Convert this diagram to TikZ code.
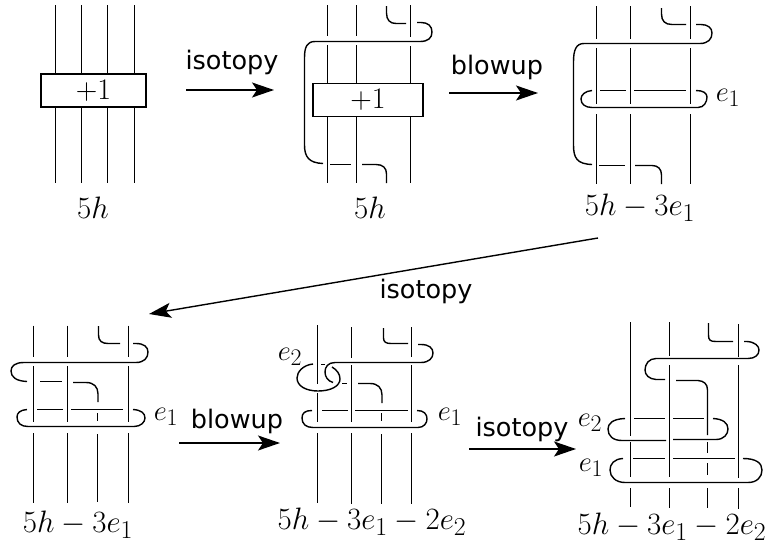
\documentclass[tikz,border=0pt]{standalone}
\usepackage{fontspec}
\usepackage{graphicx}
\newfontfamily\labelfont{DejaVu Sans}
\usetikzlibrary{arrows.meta}
\newcommand\mysized[2]{\scalebox{#1}{\fontsize{24.88}{28}\selectfont$#2$}}
\newcommand\cls[1]{\mysized{1.245}{#1}}
\newcommand\crv[1]{\mysized{1.15}{#1}}
\newcommand\frm[1]{\mysized{1.2}{#1}}
\tikzset{
  strand/.style={line width=1.4pt,line cap=butt},
  thick strand/.style={line width=1.4pt},
  flow/.style={line width=1.4pt,-{Stealth[length=22pt,width=15pt,inset=5pt]}},
  word/.style={font=\labelfont\fontsize{25.5}{28}\selectfont,inner sep=0pt},
  class/.style={inner sep=0pt},
  framing/.style={draw,line width=1.4pt,fill=white,inner sep=0pt},
  curve label/.style={inner sep=0pt}
}
\begin{document}
\begin{tikzpicture}[x=1pt,y=-1pt]
\useasboundingbox (0,0) rectangle (771,546);

% --- panel 1
\foreach \x in {55.5,81.5,107.5,134.5} \draw[strand] (\x,5) -- (\x,183);
\node[framing,minimum width=105pt,minimum height=33pt] (boxa) at (93.5,90.5) {\frm{+1}};
\node[class] (la) at (93,208) {\cls{5h}};

% --- panel 2
\foreach \x in {327.5,356.5} {\draw[strand] (\x,5) -- (\x,36) (\x,45) -- (\x,183);}
\draw[strand] (410.5,5) -- (410.5,37) (410.5,46) -- (410.5,183);
\draw[thick strand] (386.5,6) -- (386.5,13) .. controls (386.5,20) and (390,23.5) .. (396,23.5) -- (406,23.5);
\draw[thick strand] (417,22.5) -- (421,22.5) .. controls (428,22.5) and (432,26) .. (432,32) .. controls (432,38) and (428,41.5) .. (420,41.5)
  -- (315,41.5) .. controls (307,41.5) and (304.5,47) .. (304.5,58) -- (304.5,145) .. controls (304.5,157) and (309,163) .. (323,163.5);
\draw[thick strand] (330,164.5) -- (351,164.5);
\draw[thick strand] (362,164.5) -- (376,164.5) .. controls (383,164.5) and (386.5,168) .. (386.5,174) -- (386.5,183);
\node[framing,minimum width=110pt,minimum height=33.5pt] (boxb) at (368,100) {\frm{+1}};
\node[class] (lb) at (370,208) {\cls{5h}};

% --- panel 3
\foreach \x in {596.5,630.5,690.5} {\draw[strand] (\x,6) -- (\x,39) (\x,48) -- (\x,104) (\x,114) -- (\x,184);}
\draw[thick strand] (661.5,8) -- (661.5,14) .. controls (661.5,21) and (665,24.5) .. (672,24.5) -- (686,24.5);
\draw[thick strand] (696,24.5) -- (701,24.5) .. controls (708,24.5) and (712,28) .. (712,33) .. controls (712,39) and (708,43.5) .. (700,43.5)
  -- (584,43.5) .. controls (576,43.5) and (573.5,50) .. (573.5,62) -- (573.5,145) .. controls (573.5,158) and (577,164) .. (592,164.5);
\draw[thick strand] (599,165.5) -- (625,165.5);
\draw[thick strand] (635,165.5) -- (652,165.5) .. controls (658,165.5) and (661.5,169) .. (661.5,175) -- (661.5,184);
\draw[thick strand] (592,90.5) .. controls (585,91) and (581,95) .. (581,99) .. controls (581,104) and (585,107.5) .. (592,107.5) -- (698,107.5)
  .. controls (704,107.5) and (707,102) .. (707,97) .. controls (707,93) and (703,90.5) .. (696,90.5);
\draw[thick strand] (600,90.5) -- (626,90.5) (634,90.5) -- (686,90.5);
\node[curve label] (e1c) at (728,98) {\crv{e_1}};
\node[class] (lc) at (640,208) {\cls{5h-3e_1}};

% --- panel 4
\foreach \x in {33.5,67.5,128.5} {\draw[strand] (\x,325.5) -- (\x,357) (\x,366) -- (\x,422) (\x,433) -- (\x,503);}
\draw[strand] (97.5,413) -- (97.5,421) (97.5,434) -- (97.5,502);
\draw[thick strand] (98.5,326) -- (98.5,335) .. controls (98.5,341) and (102,343.5) .. (108,343.5) -- (120,343.5);
\draw[thick strand] (133,343.5) -- (136,343.5) .. controls (144,343.5) and (148,347) .. (148,352) .. controls (148,358) and (144,362.5) .. (136,362.5)
  -- (24,362.5) .. controls (15,362.5) and (11,366) .. (11,371) .. controls (11,377) and (16,381) .. (27,381.5);
\draw[thick strand] (40,381.5) -- (62,381.5);
\draw[thick strand] (73,382.5) -- (86,382.5) .. controls (94,382.5) and (98,387) .. (98,394) -- (98,402);
\draw[thick strand] (27,409.5) .. controls (20,410) and (17,413) .. (17,417) .. controls (17,423) and (21,426.5) .. (28,426.5) -- (134,426.5)
  .. controls (141,426.5) and (145,422) .. (145,418) .. controls (145,413) and (141,410) .. (133,409.5);
\draw[thick strand] (37,409.5) -- (63,409.5) (71,409.5) -- (123,409.5);
\node[curve label] (e1d) at (166,417) {\crv{e_1}};
\node[class] (ld) at (78,525) {\cls{5h-3e_1}};

% --- panel 5
\draw[strand] (317.5,325) -- (317.5,384) (317.5,393) -- (317.5,422) (317.5,433) -- (317.5,503);
\draw[strand] (351.5,327) -- (351.5,358) (351.5,365) -- (351.5,422) (351.5,433) -- (351.5,504);
\draw[strand] (381.5,413) -- (381.5,421) (381.5,434) -- (381.5,504);
\draw[strand] (411.5,327) -- (411.5,357) (411.5,365) -- (411.5,422) (411.5,433) -- (411.5,504);
\draw[thick strand] (383.5,328) -- (383.5,338) .. controls (383.5,342) and (386,343.5) .. (391,343.5) -- (408,343.5);
\draw[thick strand] (418,344.5) -- (421,344.5) .. controls (429,344.5) and (433,348) .. (433,353) .. controls (433,358) and (429,362.5) .. (421,362.5)
  -- (335,362.5) .. controls (328,362.5) and (325,367) .. (325,372) .. controls (325,377) and (328,381) .. (333,382.5);
\draw[thick strand] (342,383.5) -- (347,383.5);
\draw[thick strand] (358,383.5) -- (370,383.5) .. controls (378,383.5) and (382,388) .. (382,395) -- (382,403);
\draw[thick strand] (313,364) .. controls (303,365) and (297,372) .. (297,378) .. controls (297,386) and (306,391) .. (318,391)
  .. controls (331,391) and (340,386) .. (340,379) .. controls (340,374) and (337,370) .. (332,367);
\draw[thick strand] (321,364.5) -- (325,364.5);
\draw[thick strand] (312,410.5) .. controls (305,410.5) and (302,413) .. (302,418) .. controls (302,424) and (306,427.5) .. (313,427.5) -- (418,427.5)
  .. controls (424,427.5) and (427,423) .. (427,419) .. controls (427,414) and (424,410.5) .. (417,410.5);
\draw[thick strand] (322,410.5) -- (348,410.5) (355,410.5) -- (408,410.5);
\node[curve label] (e2e) at (290,357) {\crv{e_2}};
\node[curve label] (e1e) at (450,417) {\crv{e_1}};
\node[class] (le) at (372,522) {\cls{5h-3e_1-2e_2}};

% --- panel 6
\draw[strand] (630.5,322) -- (630.5,436) (630.5,442) -- (630.5,477) (630.5,488) -- (630.5,507);
\draw[strand] (669.5,322) -- (669.5,356) (669.5,365) -- (669.5,477) (669.5,488) -- (669.5,508);
\draw[strand] (707.5,442) -- (707.5,453) (707.5,463) -- (707.5,475) (707.5,488) -- (707.5,508);
\draw[strand] (738.5,324) -- (738.5,357) (738.5,365) -- (738.5,478) (738.5,488) -- (738.5,509);
\draw[thick strand] (708.5,323) -- (708.5,335) .. controls (708.5,340) and (710,341.5) .. (716,341.5) -- (733,341.5);
\draw[thick strand] (744,341.5) -- (747,341.5) .. controls (755,342) and (759,346) .. (759,350) .. controls (759,355) and (755,358.5) .. (748,358.5)
  -- (656,358.5) .. controls (649,358.5) and (645,364) .. (645,370) .. controls (645,375) and (649,379) .. (656,379.5) -- (665,379.5);
\draw[thick strand] (676,380.5) -- (698,380.5) .. controls (704,381) and (707.5,384) .. (707.5,390) -- (707.5,435);
\draw[thick strand] (625,418.5) .. controls (612,419) and (608,424) .. (608,429) .. controls (608,436) and (613,440.5) .. (622,440.5) -- (666,440.5);
\draw[thick strand] (673,439.5) -- (716,439.5) .. controls (724,439.5) and (728,434) .. (728,429) .. controls (728,423) and (723,419) .. (713,418.5);
\draw[thick strand] (634,418.5) -- (665,418.5) (673,418.5) -- (704,418.5);
\draw[thick strand] (623,458.5) .. controls (614,459) and (610,464) .. (610,470) .. controls (610,477) and (616,482.5) .. (625,482.5) -- (748,482.5)
  .. controls (757,482.5) and (762,477) .. (762,470) .. controls (762,463) and (756,458.5) .. (743,458.5);
\draw[thick strand] (633,458.5) -- (665,458.5) (673,458.5) -- (735,458.5);
\node[curve label] (e2f) at (590,423) {\crv{e_2}};
\node[curve label] (e1f) at (591,468) {\crv{e_1}};
\node[class] (lf) at (672,527) {\cls{5h-3e_1-2e_2}};

% --- arrows between the panels
\coordinate (a1) at (186,90); \coordinate (a2) at (274,90);
\coordinate (b1) at (449,93); \coordinate (b2) at (538,93);
\coordinate (c1) at (598,238); \coordinate (c2) at (149,314);
\coordinate (d1) at (179,443); \coordinate (d2) at (280,443);
\coordinate (f1) at (469,449); \coordinate (f2) at (576,449);
\draw[flow] (a1) -- (a2);
\draw[flow] (b1) -- (b2);
\draw[flow] (c1) -- (c2);
\draw[flow] (d1) -- (d2);
\draw[flow] (f1) -- (f2);
\node[word] (w1) at (232,62) {isotopy};
\node[word] (w2) at (497,67) {blowup};
\node[word] (w3) at (426,291) {isotopy};
\node[word] (w4) at (237,421) {blowup};
\node[word] (w5) at (522,429) {isotopy};
\end{tikzpicture}
\end{document}
